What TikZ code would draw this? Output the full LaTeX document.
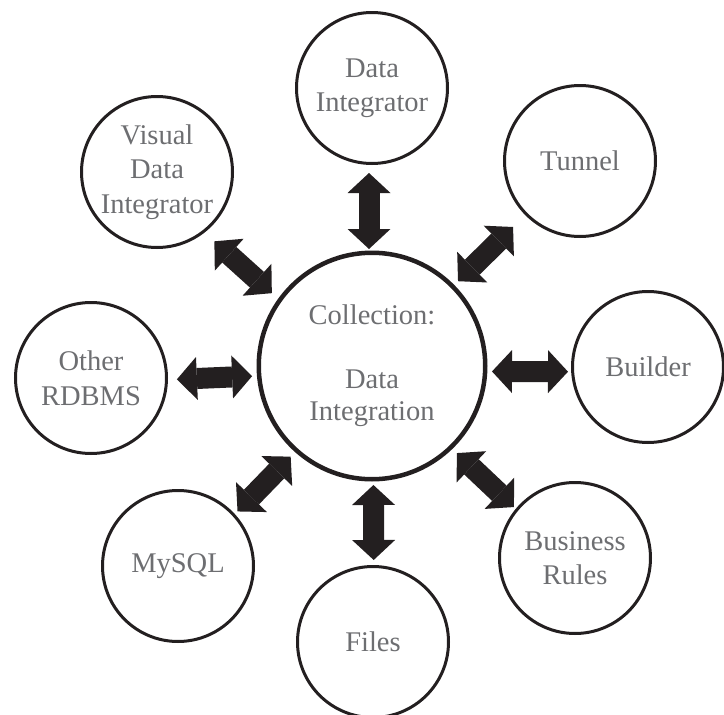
\documentclass[tikz,border=0pt]{standalone}
\usepackage{fontspec}
\setmainfont{Liberation Serif}
\usetikzlibrary{arrows.meta}

\definecolor{ink}{HTML}{231F20}
\definecolor{labelgray}{HTML}{6D6E71}

\tikzset{
  hub/.style={circle, draw=ink, line width=4.5pt, minimum size=226.5pt,
    inner sep=0pt, text=labelgray, align=center,
    font=\fontsize{28.5}{32}\selectfont},
  satellite/.style={circle, draw=ink, line width=3pt, minimum size=151pt,
    inner sep=0pt, text=labelgray, align=center,
    font=\fontsize{28.5}{34.5}\selectfont},
  blockhead/.tip={Triangle[length=20pt 0 0, width=43pt 0 0, line width=0pt 0 0]},
  link/.style={draw=ink, line width=21pt, blockhead-blockhead},
}

\begin{document}
\begin{tikzpicture}[x=1pt, y=-1pt]
  \useasboundingbox (0,0) rectangle (724,715);

  % central hub
  \node[hub] (core) at (372,366) {Collection:\\[32pt]Data\\Integration};

  % surrounding components
  \node[satellite] (di)      at (372,88)  {Data\\Integrator};
  \node[satellite] (tunnel)  at (580,161) {Tunnel};
  \node[satellite] (builder) at (648,367) {Builder};
  \node[satellite] (rules)   at (575,558) {Business\\Rules};
  \node[satellite] (files)   at (373,642) {Files};
  \node[satellite] (mysql)   at (178,566) {MySQL};
  \node[satellite] (other)   at (91,378)  {Other\\RDBMS};
  \node[satellite] (vdi)     at (157,172) {Visual\\Data\\Integrator};

  % two-way links to the hub
  \draw[link, shorten <=8pt,   shorten >=1.5pt, transform canvas={shift={(-3,0)}}]     (di) -- (core);
  \draw[link, shorten <=17pt,  shorten >=5.3pt]                                        (tunnel) -- (core);
  \draw[link, shorten <=3pt,   shorten >=4.5pt, transform canvas={shift={(0,5)}}]      (builder) -- (core);
  \draw[link, shorten <=2.4pt, shorten >=6pt,   transform canvas={shift={(-3.4,3.6)}}] (rules) -- (core);
  \draw[link, shorten <=5pt,   shorten >=3.5pt, transform canvas={shift={(1,0)}}]      (files) -- (core);
  \draw[link, shorten <=3.6pt, shorten >=6.2pt, transform canvas={shift={(3.4,3.3)}}]  (mysql) -- (core);
  \draw[link, shorten <=9pt,   shorten >=4.5pt, transform canvas={shift={(0,5)}}]      (other) -- (core);
  \draw[link, shorten <=12pt,  shorten >=7.7pt, transform canvas={shift={(-8.7,9.7)}}] (vdi) -- (core);
\end{tikzpicture}
\end{document}
